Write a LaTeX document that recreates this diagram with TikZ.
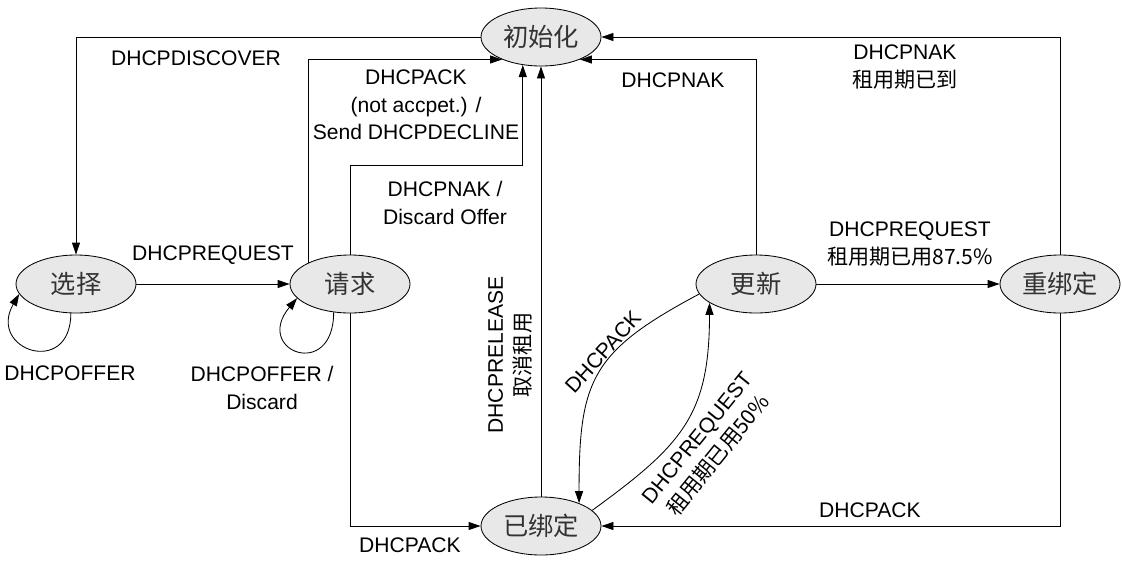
\documentclass[tikz,border=0pt]{standalone}
\usepackage{fontspec}
\setmainfont{Liberation Sans}
\newfontfamily\cjk{Noto Sans CJK SC}
\usetikzlibrary{shapes.geometric,arrows.meta}
\begin{document}
\begin{tikzpicture}[auto,>={Triangle[length=3mm,width=2mm]},line width=0.6pt]
	\tikzstyle{ellip} = [ellipse,draw=black,fill=gray!18,minimum width=3cm,minimum height=1.45cm,
	inner sep=0pt,text=black!80,font=\cjk\fontsize{18}{20}\selectfont]
	\tikzstyle{lab} = [align=center,inner sep=0pt,font=\fontsize{15}{19.5}\selectfont]
	\tikzstyle{arr} = [->,draw=black]
	\useasboundingbox (0,0) rectangle (28.05,-14.075);
	\node (select) [ellip] at (1.9,-7.1) {选择};
	\node (request) [ellip, right of=select,node distance=6.85cm] {请求};
	\node (renew) [ellip, right of=request,node distance=10.15cm] {更新};
	\node (rebind) [ellip, right of=renew,node distance=7.6cm] {重绑定};
	\node (init) [ellip] at (13.525,-0.925) {初始化};
	\node (bound) [ellip, below of=init,node distance=12.225cm] {已绑定};
	% straight connectors
	\draw[arr] (init.west) -| (select.north);
	\draw[arr] (select) -- (request);
	\draw[arr] (request.153) |- (init.210);
	\draw[arr] (request.north) -- ++(0,2.225) -| (init.237);
	\draw[arr] (request.south) |- (bound.west);
	\draw[arr] (bound.north) -- (init.south);
	\draw[arr] (renew.north) |- (init.330);
	\draw[arr] (rebind.north) |- (init.east);
	\draw[arr] (renew) -- (rebind);
	\draw[arr] (rebind.south) |- (bound.east);
	% loops and curves
	\draw[arr] (select.260) to[out=-90,in=240,looseness=3] (select.190);
	\draw[arr] (request.240) to[out=-90,in=230,looseness=4.5] (request.195);
	\draw[arr] (renew.190) to[out=208,in=90,looseness=1.3] (bound.31);
	\draw[arr] (bound.17) to[out=36,in=-90,looseness=1.2] (renew.202);
	% labels
	\node (l1) [lab] at (4.9,-1.45) {DHCPDISCOVER};
	\node (l2) [lab] at (5.325,-6.375) {DHCPREQUEST};
	\node (l3) [lab] at (1.75,-9.325) {DHCPOFFER};
	\node (l4) [lab] at (6.55,-9.7) {DHCPOFFER /\\Discard};
	\node (l5) [lab] at (10.4,-2.625) {DHCPACK\\(not accpet.) /\\Send DHCPDECLINE};
	\node (l6) [lab] at (11.125,-5.075) {DHCPNAK /\\Discard Offer};
	\node (l7) [lab] at (10.25,-13.625) {DHCPACK};
	\node (l8) [lab,rotate=90] at (12.75,-8.875) {DHCPRELEASE\\{\cjk 取消租用}};
	\node (l9) [lab] at (16.825,-2.0) {DHCPNAK};
	\node (l10) [lab] at (22.625,-1.675) {DHCPNAK\\{\cjk 租用期已到}};
	\node (l11) [lab] at (22.75,-6.1) {DHCPREQUEST\\{\cjk 租用期已用87.5\%}};
	\node (l12) [lab,rotate=48] at (15.075,-8.8) {DHCPACK};
	\node (l13) [lab,rotate=51] at (17.7,-11.175) {DHCPREQUEST\\{\cjk 租用期已用50\%}};
	\node (l14) [lab] at (21.75,-12.75) {DHCPACK};
\end{tikzpicture}
\end{document}
